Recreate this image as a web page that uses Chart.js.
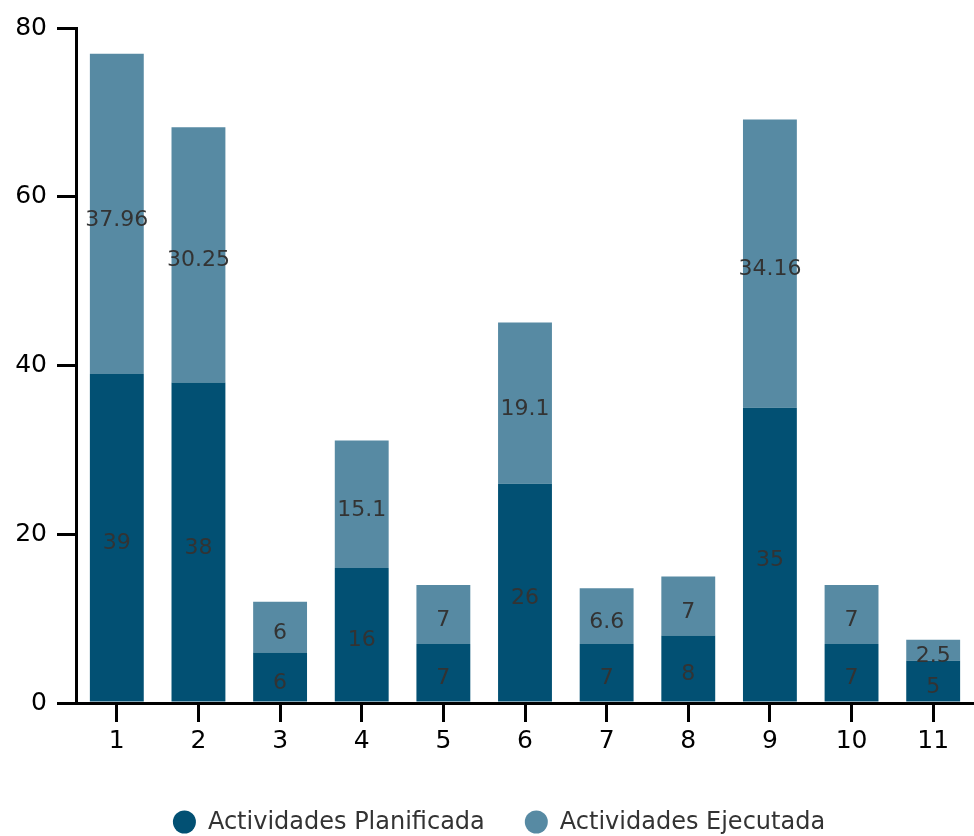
<!DOCTYPE html>
<html>
<head>
<meta charset="utf-8">
<script src="https://cdn.jsdelivr.net/npm/chart.js@4/dist/chart.umd.min.js"></script>
<style>
  html, body { margin: 0; padding: 0; background: #fff; }
  #wrap { width: 974px; height: 836px; }
</style>
</head>
<body>
<div id="wrap"><canvas id="actividades"></canvas></div>
<script>
const categories = ["1", "2", "3", "4", "5", "6", "7", "8", "9", "10", "11"];
const planificada = [39, 38, 6, 16, 7, 26, 7, 8, 35, 7, 5];
const ejecutada = [37.96, 30.25, 6, 15.1, 7, 19.1, 6.6, 7, 34.16, 7, 2.5];
const yTicks = [0, 20, 40, 60, 80];

const FONT = "'DejaVu Sans', 'Open Sans', sans-serif";

// value labels in the middle of each segment
const segmentLabels = {
  id: "segmentLabels",
  afterDatasetsDraw(chart) {
    const ctx = chart.ctx;
    ctx.save();
    ctx.font = "22px " + FONT;
    ctx.fillStyle = "#333333";
    ctx.textAlign = "center";
    ctx.textBaseline = "middle";
    chart.data.datasets.forEach((ds, i) => {
      const meta = chart.getDatasetMeta(i);
      meta.data.forEach((bar, j) => {
        const mid = (bar.y + bar.base) / 2;
        ctx.fillText(String(ds.data[j]), bar.x, mid + 6);
      });
    });
    ctx.restore();
  }
};

// legend row along the bottom edge: dot + label per dataset
const bottomLegend = {
  id: "bottomLegend",
  afterDraw(chart) {
    const ctx = chart.ctx;
    const r = 11.5, gap = 12, spacing = 40;
    ctx.save();
    ctx.font = "24px " + FONT;
    ctx.textBaseline = "middle";
    ctx.textAlign = "left";
    const items = chart.data.datasets.map(ds => ({
      text: ds.label,
      color: ds.backgroundColor,
      w: 2 * r + gap + ctx.measureText(ds.label).width
    }));
    const total = items.reduce((s, it) => s + it.w, 0) + spacing * (items.length - 1);
    let x = (chart.width - total) / 2 + 12;
    const y = chart.height - 14;
    items.forEach(it => {
      ctx.fillStyle = it.color;
      ctx.beginPath();
      ctx.arc(x + r, y, r, 0, Math.PI * 2);
      ctx.fill();
      ctx.fillStyle = "#333333";
      ctx.fillText(it.text, x + 2 * r + gap, y + 1);
      x += it.w + spacing;
    });
    ctx.restore();
  }
};

const ctx = document.getElementById("actividades");

new Chart(ctx, {
  type: "bar",
  data: {
    labels: categories,
    datasets: [
      {
        label: "Actividades Planificada",
        data: planificada,
        backgroundColor: "#025073",
        barPercentage: 0.66,
        categoryPercentage: 1
      },
      {
        label: "Actividades Ejecutada",
        data: ejecutada,
        backgroundColor: "#578aa3",
        barPercentage: 0.66,
        categoryPercentage: 1
      }
    ]
  },
  options: {
    responsive: true,
    maintainAspectRatio: false,
    animation: false,
    layout: { padding: { top: 28, right: 0, left: 0, bottom: 73 } },
    plugins: {
      tooltip: { enabled: false },
      legend: { display: false }
    },
    scales: {
      x: {
        stacked: true,
        border: { color: "#000", width: 3 },
        grid: { offset: false, drawOnChartArea: false, color: "#000", lineWidth: 3, tickLength: 19, tickColor: "#000", tickWidth: 3 },
        ticks: { color: "#000", padding: 4, font: { family: FONT, size: 25 } },
        afterFit(scale) { scale.height = 60; }
      },
      y: {
        stacked: true,
        min: 0,
        max: 80,
        border: { color: "#000", width: 3 },
        grid: { drawOnChartArea: false, color: "#000", lineWidth: 3, tickLength: 19, tickColor: "#000", tickWidth: 3 },
        afterBuildTicks(scale) { scale.ticks = yTicks.map(v => ({ value: v })); },
        ticks: { color: "#000", padding: 10, font: { family: FONT, size: 25 } },
        afterFit(scale) { scale.width = 76; }
      }
    }
  },
  plugins: [segmentLabels, bottomLegend]
});
</script>
</body>
</html>
